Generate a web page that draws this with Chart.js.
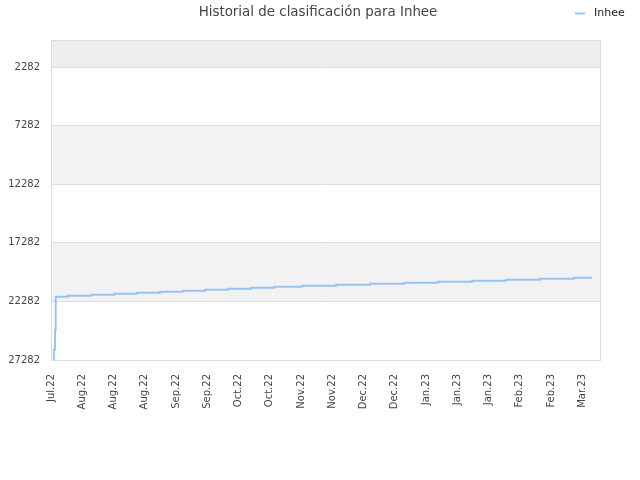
<!DOCTYPE html>
<html>
<head>
<meta charset="utf-8">
<script src="https://cdn.jsdelivr.net/npm/chart.js@4/dist/chart.umd.min.js"></script>
<style>
  html, body { margin: 0; padding: 0; background: #fff; }
  #wrap { width: 640px; height: 480px; position: relative; }
</style>
</head>
<body>
<div id="wrap"><canvas id="c" width="640" height="480"></canvas></div>
<script>
const chartTitle = 'Historial de clasificación para Inhee';
const seriesName = 'Inhee';
const xLabels = ['Jul.22','Aug.22','Aug.22','Aug.22','Sep.22','Sep.22','Oct.22','Oct.22','Nov.22','Nov.22','Dec.22','Dec.22','Jan.23','Jan.23','Jan.23','Feb.23','Feb.23','Mar.23'];
const yTicks = [2282, 7282, 12282, 17282, 22282, 27282];
// positions along the date axis (in label-tick units) where the rank changes
const rankPos = [0.09, 0.09, 0.13, 0.15, 0.54, 1.28, 2.02, 2.75, 3.49, 4.23, 4.93, 5.67, 6.40, 7.14, 8.04, 9.12, 10.21, 11.30, 12.39, 13.48, 14.56, 15.65, 16.74, 17.32];
const rankValues = [27282, 26429, 24722, 21880, 21795, 21710, 21625, 21540, 21455, 21370, 21285, 21200, 21115, 21030, 20945, 20860, 20775, 20690, 20605, 20520, 20435, 20350, 20265, 20265];

const lineColor = 'rgb(150,196,242)';
const FONT = '"DejaVu Sans", sans-serif';

const bandsPlugin = {
  id: 'bands',
  beforeDraw(chart) {
    const { ctx, chartArea: a, scales: { y } } = chart;
    ctx.save();
    ctx.fillStyle = '#ffffff';
    ctx.fillRect(a.left, a.top, a.right - a.left, a.bottom - a.top);
    const bounds = [y.min].concat(yTicks);
    for (let i = 0; i < bounds.length - 1; i++) {
      if (i % 2 === 0) {
        const p1 = y.getPixelForValue(bounds[i]);
        const p2 = y.getPixelForValue(bounds[i + 1]);
        ctx.fillStyle = i === 0 ? '#eeeeee' : '#f2f2f2';
        ctx.fillRect(a.left, Math.min(p1, p2), a.right - a.left, Math.abs(p2 - p1));
      }
    }
    ctx.restore();
  },
  afterDatasetsDraw(chart) {
    const { ctx, chartArea: a } = chart;
    ctx.save();
    ctx.strokeStyle = '#dddddd';
    ctx.lineWidth = 1;
    ctx.strokeRect(Math.round(a.left) + 0.5, Math.round(a.top) + 0.5, Math.round(a.right - a.left), Math.round(a.bottom - a.top));
    ctx.restore();
  },
  afterDraw(chart) {
    const { ctx } = chart;
    ctx.save();
    ctx.font = '13.4px ' + FONT;
    ctx.fillStyle = '#444444';
    ctx.textAlign = 'center';
    ctx.textBaseline = 'middle';
    ctx.fillText(chartTitle, 318, 13);
    ctx.strokeStyle = lineColor;
    ctx.lineWidth = 2;
    ctx.beginPath();
    ctx.moveTo(575, 13.5);
    ctx.lineTo(585, 13.5);
    ctx.stroke();
    ctx.font = '11px ' + FONT;
    ctx.fillStyle = '#222222';
    ctx.textAlign = 'left';
    ctx.fillText(chart.data.datasets[0].label, 594, 13);
    ctx.restore();
  }
};

new Chart(document.getElementById('c'), {
  type: 'line',
  data: {
    datasets: [{
      label: seriesName,
      data: rankPos.map((x, i) => ({ x: x, y: rankValues[i] })),
      borderColor: lineColor,
      borderWidth: 2,
      pointRadius: 0,
      stepped: true,
      fill: false,
      tension: 0
    }]
  },
  options: {
    responsive: false,
    animation: false,
    devicePixelRatio: 1,
    layout: { padding: { top: 40, right: 40, left: 0, bottom: 0 } },
    plugins: {
      legend: { display: false },
      title: { display: false },
      tooltip: { enabled: false }
    },
    scales: {
      x: {
        type: 'linear',
        min: 0,
        max: 17.57,
        afterFit(s) { s.height = 120; },
        afterBuildTicks(s) { s.ticks = xLabels.map((_, i) => ({ value: i })); },
        grid: { display: false, drawTicks: false },
        border: { display: false },
        ticks: {
          autoSkip: false,
          maxRotation: 90,
          minRotation: 90,
          padding: 14,
          color: '#444444',
          font: { family: FONT, size: 10 },
          callback: (v) => xLabels[Math.round(v)]
        }
      },
      y: {
        reverse: true,
        min: -22,
        max: 27282,
        afterFit(s) { s.width = 51; },
        afterBuildTicks(s) { s.ticks = yTicks.map(v => ({ value: v })); },
        grid: { color: '#dddddd', lineWidth: 1, drawTicks: false },
        border: { display: false },
        ticks: {
          padding: 11,
          color: '#444444',
          font: { family: FONT, size: 10 },
          callback: (v) => String(v)
        }
      }
    }
  },
  plugins: [bandsPlugin]
});
</script>
</body>
</html>
